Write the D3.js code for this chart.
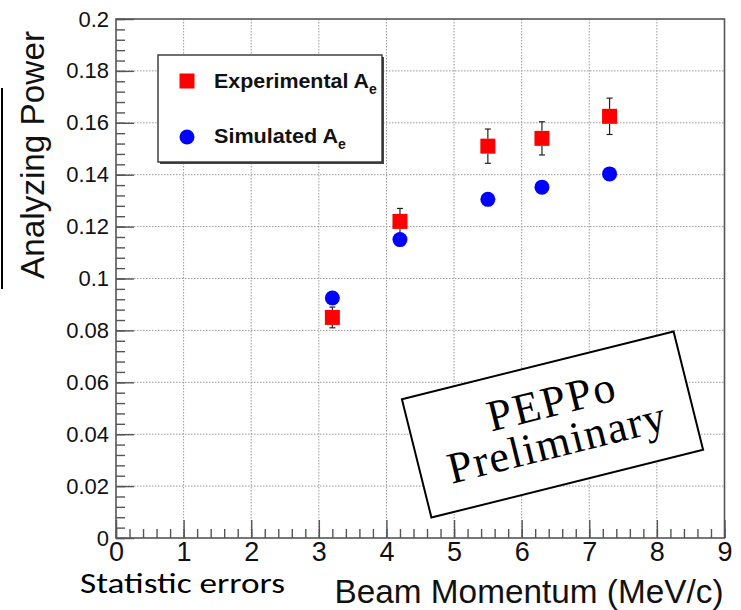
<!DOCTYPE html>
<html>
<head>
<meta charset="utf-8">
<script src="https://cdn.jsdelivr.net/npm/d3@7"></script>
<style>
  html, body { margin: 0; padding: 0; background: #fff; }
  svg { display: block; }
</style>
</head>
<body>
<svg id="chart" width="741" height="610"></svg>
<script>
// Beam momentum (MeV/c) of each measurement
const momentum = [3.2, 4.2, 5.5, 6.3, 7.3];
// Measured analyzing power with statistical errors
const expAe = [0.085, 0.122, 0.151, 0.154, 0.1625];
const expErr = [0.004, 0.005, 0.0066, 0.0064, 0.007];
// Simulated analyzing power
const simAe = [0.0925, 0.115, 0.1305, 0.1352, 0.1403];

// Axis ticks and their labels
const xTicks = [0, 1, 2, 3, 4, 5, 6, 7, 8, 9];
const xTickLabels = ["0", "1", "2", "3", "4", "5", "6", "7", "8", "9"];
const yTicks = [0, 0.02, 0.04, 0.06, 0.08, 0.1, 0.12, 0.14, 0.16, 0.18, 0.2];
const yTickLabels = ["0", "0.02", "0.04", "0.06", "0.08", "0.1", "0.12", "0.14", "0.16", "0.18", "0.2"];

const svg = d3.select("#chart");
const frame = { left: 116, right: 724.5, top: 19, bottom: 538 };

const x = d3.scaleLinear().domain([0, 9]).range([frame.left, frame.right]);
const y = d3.scaleLinear().domain([0, 0.2]).range([frame.bottom, frame.top]);

const axisColor = "#555";
const sans = "'Liberation Sans', Arial, Helvetica, sans-serif";
const serif = "'Liberation Serif', 'Times New Roman', Times, serif";

// Dotted grid at the major ticks
const grid = svg.append("g").attr("stroke", "#9a9a9a").attr("stroke-width", 1)
  .attr("stroke-dasharray", "1.5,1.5");
grid.selectAll("line.gx").data(xTicks.slice(1, -1)).join("line")
  .attr("x1", d => x(d)).attr("x2", d => x(d))
  .attr("y1", frame.top).attr("y2", frame.bottom);
grid.selectAll("line.gy").data(yTicks.slice(1, -1)).join("line")
  .attr("x1", frame.left).attr("x2", frame.right)
  .attr("y1", d => y(d)).attr("y2", d => y(d));

// Frame
svg.append("rect")
  .attr("x", frame.left).attr("y", frame.top)
  .attr("width", frame.right - frame.left).attr("height", frame.bottom - frame.top)
  .attr("fill", "none").attr("stroke", axisColor).attr("stroke-width", 1.6);

function styleAxis(g) {
  g.select(".domain").remove();
  g.selectAll(".tick line").attr("stroke", axisColor).attr("stroke-width", 1.4);
}

// X axis: minor then major ticks, drawn inward
svg.append("g").attr("transform", `translate(0,${frame.bottom})`)
  .call(d3.axisBottom(x).tickValues(d3.range(0, 46).map(i => i * 0.2)).tickSize(-9).tickFormat(""))
  .call(styleAxis);
svg.append("g").attr("transform", `translate(0,${frame.bottom})`)
  .call(d3.axisBottom(x).tickValues(xTicks).tickSize(-18).tickPadding(4)
    .tickFormat((d, i) => xTickLabels[i]))
  .call(styleAxis)
  .call(g => g.selectAll("text").attr("font-family", sans).attr("font-size", 27).attr("fill", "#111"));

// Y axis
svg.append("g").attr("transform", `translate(${frame.left},0)`)
  .call(d3.axisLeft(y).tickValues(d3.range(0, 51).map(i => i * 0.004)).tickSize(-9).tickFormat(""))
  .call(styleAxis);
svg.append("g").attr("transform", `translate(${frame.left},0)`)
  .call(d3.axisLeft(y).tickValues(yTicks).tickSize(-18).tickPadding(7)
    .tickFormat((d, i) => yTickLabels[i]))
  .call(styleAxis)
  .call(g => g.selectAll("text").attr("font-family", sans).attr("font-size", 22).attr("fill", "#111"));

// Axis titles
svg.append("text")
  .attr("x", frame.right - 1).attr("y", 603)
  .attr("text-anchor", "end")
  .attr("font-family", sans).attr("font-size", 33).attr("fill", "#111")
  .attr("textLength", 389).attr("lengthAdjust", "spacingAndGlyphs")
  .text("Beam Momentum (MeV/c)");

svg.append("text")
  .attr("transform", "translate(44,31) rotate(-90)")
  .attr("text-anchor", "end")
  .attr("font-family", sans).attr("font-size", 33).attr("fill", "#111")
  .attr("textLength", 248).attr("lengthAdjust", "spacingAndGlyphs")
  .text("Analyzing Power");

// Bar on the far left
svg.append("line").attr("x1", 2).attr("x2", 2).attr("y1", 88).attr("y2", 289)
  .attr("stroke", "#000").attr("stroke-width", 2);

svg.append("text")
  .attr("x", 80).attr("y", 593)
  .attr("font-family", "Carlito, Lato, sans-serif").attr("font-size", 28).attr("fill", "#000")
  .attr("textLength", 205).attr("lengthAdjust", "spacingAndGlyphs")
  .text("Statistic errors");

// Preliminary stamp
const stamp = svg.append("g").attr("transform", "translate(552.5,424.5) rotate(-14)");
stamp.append("rect").attr("x", -140).attr("y", -61).attr("width", 280).attr("height", 122)
  .attr("fill", "#fff").attr("stroke", "#000").attr("stroke-width", 2);
stamp.append("text").attr("x", 5).attr("y", -8).attr("text-anchor", "middle")
  .attr("font-family", serif).attr("font-size", 44)
  .attr("letter-spacing", 2).text("PEPPo");
stamp.append("text").attr("x", 0).attr("y", 33).attr("text-anchor", "middle")
  .attr("font-family", serif).attr("font-size", 44)
  .attr("letter-spacing", 1.5).text("Preliminary");

// Error bars (drawn outside the marker, with small end caps)
const half = 7.5;
const errG = svg.append("g").attr("stroke", "#222").attr("stroke-width", 1.2);
momentum.forEach((m, i) => {
  const cx = x(m), cy = y(expAe[i]);
  const yt = y(expAe[i] + expErr[i]), yb = y(expAe[i] - expErr[i]);
  if (cy - half > yt) {
    errG.append("line").attr("x1", cx).attr("x2", cx).attr("y1", yt).attr("y2", cy - half);
  }
  if (yb > cy + half) {
    errG.append("line").attr("x1", cx).attr("x2", cx).attr("y1", cy + half).attr("y2", yb);
  }
  errG.append("line").attr("x1", cx - 3).attr("x2", cx + 3).attr("y1", yt).attr("y2", yt);
  errG.append("line").attr("x1", cx - 3).attr("x2", cx + 3).attr("y1", yb).attr("y2", yb);
});

// Simulated points
svg.append("g").selectAll("circle").data(momentum).join("circle")
  .attr("cx", d => x(d)).attr("cy", (d, i) => y(simAe[i])).attr("r", 7.5)
  .attr("fill", "#0000ff");

// Experimental points
svg.append("g").selectAll("rect").data(momentum).join("rect")
  .attr("x", d => x(d) - half).attr("y", (d, i) => y(expAe[i]) - half)
  .attr("width", 2 * half).attr("height", 2 * half)
  .attr("fill", "#ff0000");

// Legend
const legend = svg.append("g");
legend.append("rect").attr("x", 160).attr("y", 57).attr("width", 224).attr("height", 107)
  .attr("fill", "#444");
legend.append("rect").attr("x", 158).attr("y", 55).attr("width", 224).attr("height", 107)
  .attr("fill", "#fff").attr("stroke", "#333").attr("stroke-width", 1.4);
legend.append("rect").attr("x", 187 - half).attr("y", 81 - half)
  .attr("width", 2 * half).attr("height", 2 * half).attr("fill", "#ff0000");
legend.append("circle").attr("cx", 187).attr("cy", 137).attr("r", 7.5).attr("fill", "#0000ff");

function legendLabel(yPos, main, len) {
  const t = legend.append("text").attr("x", 214).attr("y", yPos)
    .attr("font-family", sans).attr("font-weight", "bold").attr("font-size", 21).attr("fill", "#111");
  t.append("tspan").attr("textLength", len).attr("lengthAdjust", "spacingAndGlyphs").text(main);
  t.append("tspan").attr("dy", 6).attr("font-size", 14).text("e");
}
legendLabel(88, "Experimental A", 155);
legendLabel(143, "Simulated A", 124);
</script>
</body>
</html>
